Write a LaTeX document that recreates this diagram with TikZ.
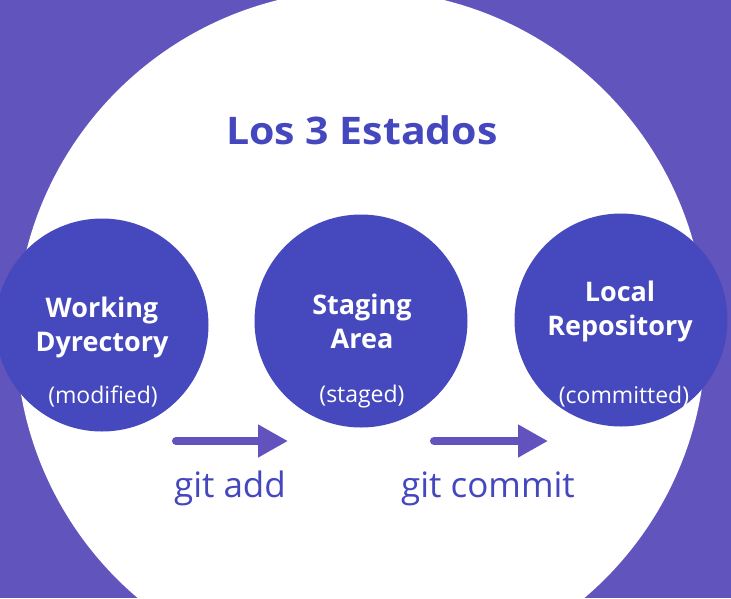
\documentclass[tikz,border=0pt]{standalone}
\usepackage{fontspec}
\setmainfont{Open Sans}
\usetikzlibrary{arrows.meta}
\definecolor{bgpurple}{HTML}{6254BD}
\definecolor{circblue}{HTML}{4649BD}
\definecolor{titleblue}{HTML}{4447BD}
\definecolor{arrowpurple}{HTML}{6152BD}
\tikzset{
  state/.style={circle, fill=circblue, draw=none, minimum size=213pt, inner sep=0pt},
  statename/.style={text=white, font=\fontsize{27}{34}\selectfont\bfseries, align=center, inner sep=0pt},
  statesub/.style={text=white, font=\fontsize{23}{27}\selectfont, inner sep=0pt},
  cmd/.style={text=titleblue, font=\fontsize{35}{40}\selectfont, inner sep=0pt},
  flow/.style={draw=arrowpurple, line width=8pt, line cap=round, -{Triangle[length=30pt,width=31pt]}}
}
\begin{document}
\begin{tikzpicture}[x=1pt,y=-1pt]
\useasboundingbox (0,0) rectangle (731,598);
\begin{scope}
\clip (0,0) rectangle (731,598);
\fill[bgpurple] (0,0) rectangle (731,598);
\fill[white] (361,335) circle (345pt);
\node[state] (wd) at (102,325) {};
\node[state] (sa) at (361,321) {};
\node[state] (lr) at (621,320) {};
\end{scope}
\node[text=titleblue, font=\fontsize{38}{44}\selectfont\bfseries, inner sep=0pt] (title) at (362,130) {\scalebox{1.08}[1]{Los 3 Estados}};
\node[statename] (wdname) at (102,327) {Working\\Dyrectory};
\node[statesub] (wdsub) at (103,397) {(modified)};
\node[statename] (saname) at (362,321) {Staging\\Area};
\node[statesub] (sasub) at (362,397) {(staged)};
\node[statename] (lrname) at (620,311) {Local\\Repository};
\node[statesub] (lrsub) at (624,397) {(committed)};
\coordinate (a1s) at (176,441);
\coordinate (a1e) at (288,441);
\coordinate (a2s) at (434,441);
\coordinate (a2e) at (548,441);
\draw[flow] (a1s) -- (a1e);
\draw[flow] (a2s) -- (a2e);
\node[cmd, anchor=base] (gitadd) at (230,497) {git add};
\node[cmd, anchor=base] (gitcommit) at (488,497) {git commit};
\end{tikzpicture}
\end{document}
